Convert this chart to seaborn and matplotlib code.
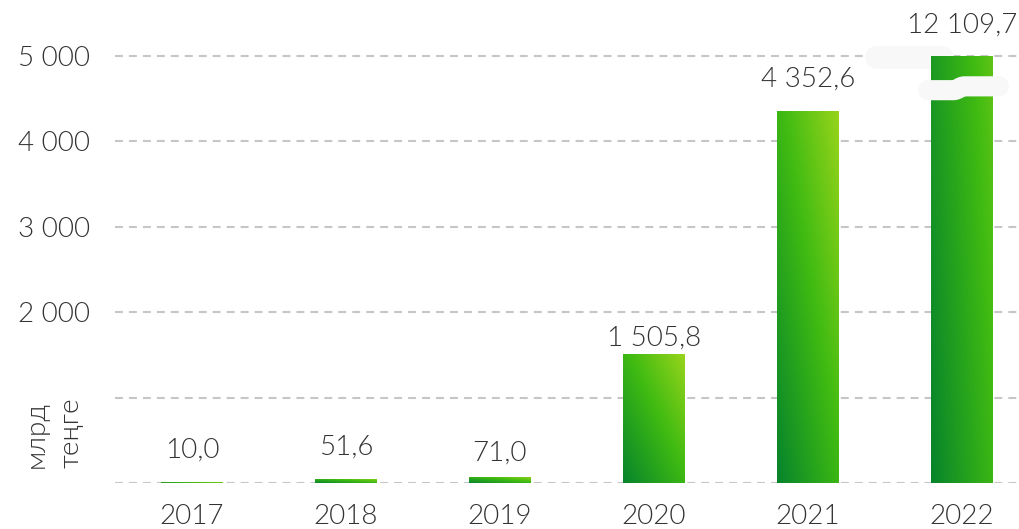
import numpy as np
import pandas as pd
import matplotlib
matplotlib.use("Agg")
import matplotlib.pyplot as plt
import seaborn as sns
from matplotlib.colors import LinearSegmentedColormap
from matplotlib.path import Path
from matplotlib.patches import PathPatch

# ---- data ----
years = ["2017", "2018", "2019", "2020", "2021", "2022"]
values = [10.0, 51.6, 71.0, 1505.8, 4352.6, 12109.7]
value_labels = ["10,0", "51,6", "71,0", "1 505,8", "4 352,6", "12 109,7"]
y_ticks = [0, 1000, 2000, 3000, 4000, 5000]
y_tick_labels = ["", "", "2 000", "3 000", "4 000", "5 000"]
unit_label = "млрд\nтеңге"
axis_cap = 5000

sns.set_theme(style="white")
plt.rcParams["font.family"] = ["Lato", "DejaVu Sans"]
TEXT = "#333333"
FS = 20
WT = 300

fig = plt.figure(figsize=(10.2, 5.29), dpi=100)
ax = fig.add_axes([115 / 1020, 46 / 529, 924 / 1020, 483 / 529])

df = pd.DataFrame({"year": years, "value": [min(v, axis_cap) for v in values]})
sns.barplot(data=df, x="year", y="value", width=0.40, color="#2aa51e", ax=ax,
            saturation=1, zorder=2)

cmap = LinearSegmentedColormap.from_list(
    "grad", [(0.0, "#06842b"), (0.55, "#40bb12"), (1.0, "#97d41b")])
n = 200
u = np.linspace(0, 1, n)[None, :]
v = np.linspace(0, 1, n)[:, None]
grad = (u + v) / 2

for patch, val in zip(ax.patches, values):
    x0 = patch.get_x()
    w = patch.get_width()
    patch.set_facecolor("none")
    patch.set_edgecolor("none")
    im = ax.imshow(grad, cmap=cmap, vmin=0, vmax=1, origin="lower",
                   extent=(x0, x0 + w, 0, val), aspect="auto",
                   interpolation="bilinear", zorder=2)
    im.set_clip_path(patch)

ax.set_xlim(-0.5, len(years) - 0.5)
ax.set_ylim(0, 5656)

# grid
ax.set_yticks(y_ticks)
ax.set_yticklabels(y_tick_labels)
ax.yaxis.grid(True, color="#c6c6c6", linewidth=1.5, linestyle=(0, (3.8, 2.9)))
ax.xaxis.grid(False)
ax.set_axisbelow(True)
for s in ax.spines.values():
    s.set_visible(False)
ax.tick_params(axis="y", length=0, pad=18, labelsize=FS, labelcolor=TEXT)
ax.tick_params(axis="x", length=0, pad=15, labelsize=FS, labelcolor=TEXT)
for t in ax.get_yticklabels() + ax.get_xticklabels():
    t.set_fontweight(WT)
ax.set_xlabel("")
ax.set_ylabel("")

# value labels
pads = [14, 14, 8, 3, 14, 13]
for i, (val, lab) in enumerate(zip(values, value_labels)):
    ax.annotate(lab, (i, min(val, axis_cap)), xytext=(0, pads[i]),
                textcoords="offset points", ha="center", va="bottom",
                fontsize=FS, color=TEXT, fontweight=WT)

# unit label
fig.text(54 / 1020, 1 - 468 / 529, unit_label, rotation=90, ha="center",
         va="bottom", multialignment="left", fontsize=FS, color=TEXT,
         fontweight=WT, linespacing=1.5)

# axis break decoration on the last bar
bi = len(years) - 1
band_col = "#f8f8f8"
ax.plot([bi - 0.56, bi - 0.13], [4994, 4994], color=band_col, lw=16.5,
        solid_capstyle="round", zorder=1.5)
verts = [(bi - 0.22, 4600), (bi - 0.06, 4600), (bi - 0.02, 4600),
         (bi - 0.02, 4645), (bi + 0.02, 4645), (bi + 0.24, 4645)]
codes = [Path.MOVETO, Path.LINETO, Path.CURVE4, Path.CURVE4, Path.CURVE4, Path.LINETO]
ax.add_patch(PathPatch(Path(verts, codes), facecolor="none", edgecolor=band_col,
                       lw=14.5, capstyle="round", joinstyle="round", zorder=3))

fig.savefig("out.png", dpi=100)
